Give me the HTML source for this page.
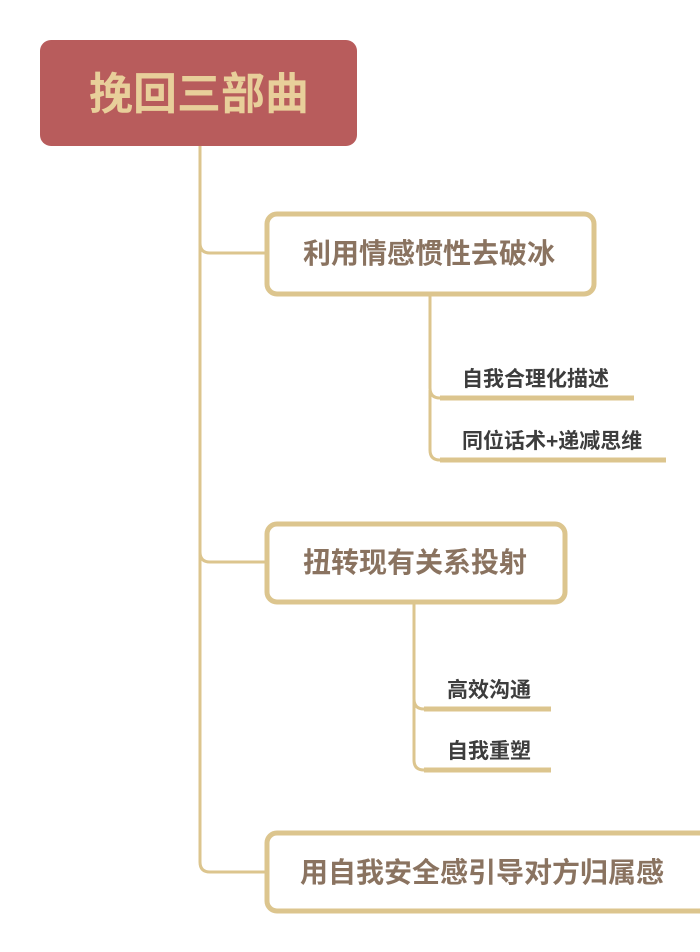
<!DOCTYPE html>
<html><head><meta charset="utf-8"><style>
body{margin:0;background:#fff}
svg{display:block}
text{font-family:"Liberation Sans","Noto Sans CJK SC",sans-serif}
</style></head><body>
<svg width="700" height="952" viewBox="0 0 700 952">
<g fill="none" stroke="#dcc58e" stroke-width="3">
<path d="M200 146 V862 Q200 872 210 872 H265"/>
<path d="M200 243 Q200 253 210 253 H265"/>
<path d="M200 552 Q200 562 210 562 H265"/>
<path d="M430 296 V388 Q430 398 440 398"/>
<path d="M430 390 V450 Q430 460 440 460"/>
<path d="M414 604 V699 Q414 709 424 709"/>
<path d="M414 700 V760 Q414 770 424 770"/>
</g>
<g stroke="#dcc58e" stroke-width="5" stroke-linecap="butt">
<line x1="440" y1="398" x2="634" y2="398"/>
<line x1="440" y1="460" x2="666" y2="460"/>
<line x1="424" y1="709" x2="551" y2="709"/>
<line x1="424" y1="770" x2="551" y2="770"/>
</g>
<rect x="40" y="40" width="317" height="106" rx="11" fill="#b85c5c"/>
<text x="199" y="109" font-size="44" font-weight="bold" fill="#e8cf9a" text-anchor="middle">挽回三部曲</text>
<g fill="#fff" stroke="#dcc58e" stroke-width="5">
<rect x="267" y="214" width="327" height="80" rx="10"/>
<rect x="267" y="524" width="298" height="78" rx="10"/>
<rect x="267" y="833" width="445" height="78" rx="10"/>
</g>
<g font-size="28" fill="#8a7360" font-weight="bold">
<text x="429" y="263" text-anchor="middle">利用情感惯性去破冰</text>
<text x="415" y="572" text-anchor="middle">扭转现有关系投射</text>
<text x="300" y="882">用自我安全感引导对方归属感</text>
</g>
<g font-size="21" fill="#3d3d3d" font-weight="bold">
<text x="462" y="386">自我合理化描述</text>
<text x="462" y="448">同位话术+递减思维</text>
<text x="447" y="697">高效沟通</text>
<text x="447" y="758">自我重塑</text>
</g>
</svg>
</body></html>
